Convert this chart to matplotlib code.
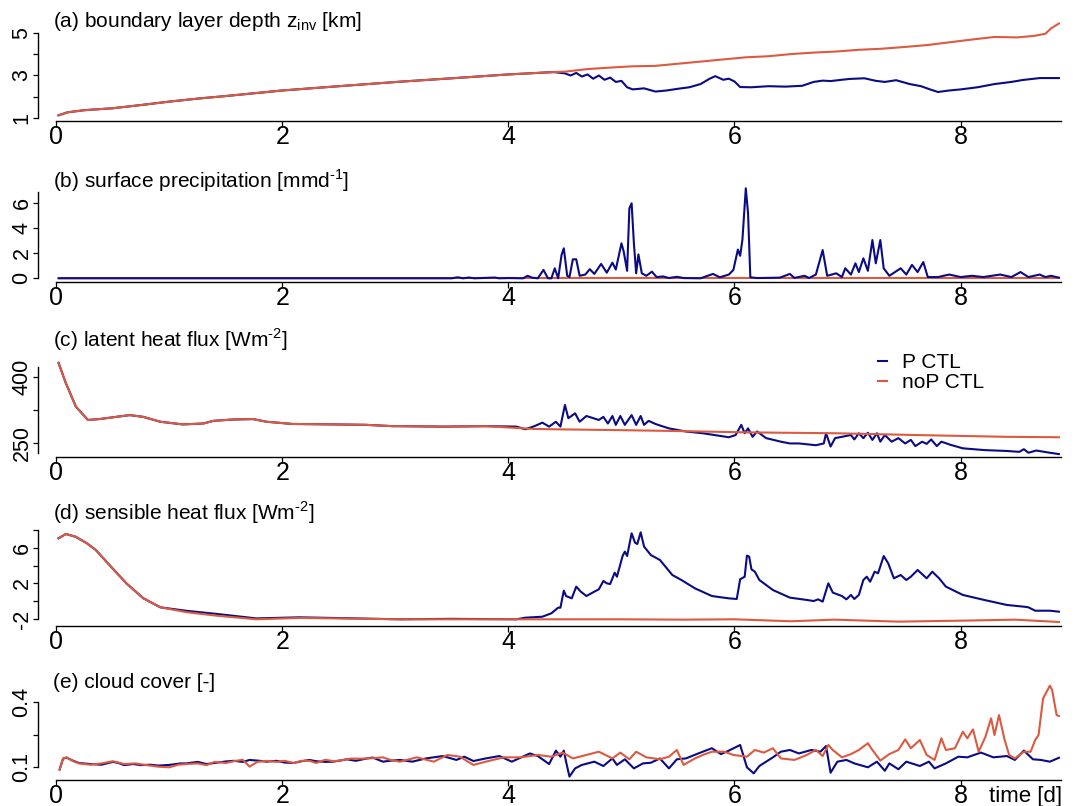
import matplotlib.pyplot as plt

plt.rcParams['font.family'] = ['Liberation Sans', 'DejaVu Sans']
plt.rcParams['mathtext.fontset'] = 'custom'
plt.rcParams['mathtext.rm'] = 'Liberation Sans'
plt.rcParams['axes.unicode_minus'] = False

BLUE = '#0b0b84'
RED = '#db5a40'

# ---- data: (time [d], value) ----
# (a) boundary layer depth [km]
a_shared = [(0.02, 1.14), (0.10, 1.28), (0.25, 1.38), (0.50, 1.47), (0.75, 1.62),
            (1.00, 1.78), (1.27, 1.93), (1.50, 2.04), (2.00, 2.30), (2.50, 2.50),
            (3.04, 2.71), (3.50, 2.87), (4.00, 3.05), (4.40, 3.16)]
a_p = [(4.50, 3.10), (4.55, 3.00), (4.60, 3.12), (4.65, 2.95), (4.70, 3.05), (4.75, 2.85),
       (4.80, 3.00), (4.85, 2.80), (4.90, 2.90), (4.95, 2.70), (5.00, 2.75), (5.05, 2.45),
       (5.10, 2.35), (5.20, 2.40), (5.30, 2.25), (5.40, 2.30), (5.50, 2.38), (5.60, 2.45),
       (5.70, 2.60), (5.78, 2.85), (5.83, 2.97), (5.90, 2.80), (5.95, 2.85), (6.00, 2.72),
       (6.05, 2.46), (6.15, 2.45), (6.30, 2.50), (6.45, 2.48), (6.60, 2.52), (6.70, 2.70),
       (6.78, 2.76), (6.85, 2.74), (6.95, 2.80), (7.02, 2.84), (7.15, 2.87), (7.25, 2.75),
       (7.33, 2.70), (7.43, 2.78), (7.55, 2.60), (7.65, 2.50), (7.73, 2.35), (7.80, 2.23),
       (7.90, 2.30), (8.00, 2.35), (8.15, 2.45), (8.30, 2.60), (8.45, 2.70), (8.55, 2.79),
       (8.70, 2.88), (8.87, 2.88)]
a_nop = [(4.50, 3.18), (4.70, 3.30), (4.90, 3.37), (5.10, 3.43), (5.30, 3.45), (5.50, 3.55),
         (5.70, 3.65), (5.90, 3.75), (6.10, 3.85), (6.30, 3.90), (6.50, 4.00), (6.70, 4.07),
         (6.90, 4.12), (7.10, 4.20), (7.30, 4.25), (7.50, 4.33), (7.70, 4.42), (7.90, 4.55),
         (8.10, 4.68), (8.30, 4.80), (8.50, 4.78), (8.65, 4.85), (8.75, 4.95), (8.80, 5.20),
         (8.87, 5.43)]

# (b) surface precipitation [mm/d]
b_p = [(0.02, 0.0), (3.50, 0.0), (3.55, 0.08), (3.60, 0.0), (3.65, 0.06), (3.70, 0.0),
       (3.88, 0.06), (3.92, 0.0), (4.00, 0.02), (4.13, 0.0), (4.17, 0.20), (4.21, 0.05),
       (4.26, 0.0), (4.31, 0.67), (4.35, 0.0), (4.38, 0.0), (4.41, 0.80), (4.44, 0.0),
       (4.47, 1.87), (4.49, 2.40), (4.52, 0.20), (4.54, 0.10), (4.57, 1.52), (4.60, 1.52),
       (4.63, 0.20), (4.68, 0.30), (4.72, 0.73), (4.76, 0.35), (4.82, 1.15), (4.87, 0.45),
       (4.92, 1.25), (4.95, 0.70), (5.00, 2.80), (5.02, 2.13), (5.05, 0.60), (5.07, 5.60),
       (5.09, 6.00), (5.11, 2.80), (5.13, 0.40), (5.15, 1.91), (5.18, 0.40), (5.22, 0.20),
       (5.27, 0.53), (5.31, 0.10), (5.37, 0.15), (5.42, 0.02), (5.49, 0.12), (5.55, 0.02),
       (5.70, 0.0), (5.81, 0.35), (5.87, 0.08), (5.95, 0.30), (5.99, 0.67), (6.03, 2.30),
       (6.05, 1.80), (6.07, 3.07), (6.10, 7.20), (6.12, 5.20), (6.14, 0.08), (6.20, 0.02),
       (6.40, 0.05), (6.49, 0.35), (6.53, 0.03), (6.62, 0.20), (6.66, 0.02), (6.72, 0.30),
       (6.78, 2.26), (6.82, 0.20), (6.90, 0.40), (6.95, 0.10), (6.98, 0.80), (7.03, 0.30),
       (7.07, 1.20), (7.10, 0.50), (7.14, 1.60), (7.18, 0.60), (7.22, 3.06), (7.25, 1.20),
       (7.29, 3.06), (7.32, 0.80), (7.37, 0.20), (7.42, 0.50), (7.47, 0.80), (7.52, 0.30),
       (7.57, 1.07), (7.62, 0.50), (7.67, 1.30), (7.71, 0.10), (7.80, 0.10), (7.90, 0.30),
       (8.00, 0.10), (8.10, 0.20), (8.20, 0.10), (8.35, 0.30), (8.45, 0.10), (8.53, 0.50),
       (8.60, 0.10), (8.70, 0.30), (8.75, 0.10), (8.80, 0.20), (8.87, 0.05)]
b_nop = [(0.02, 0.0), (4.50, 0.0), (8.87, 0.0)]

# (c) latent heat flux [W/m2]
c_shared = [(0.02, 432), (0.085, 386), (0.174, 333), (0.28, 303), (0.38, 305), (0.50, 309),
            (0.65, 314), (0.77, 310), (0.92, 299), (1.12, 293), (1.30, 295), (1.39, 301),
            (1.56, 304), (1.74, 305), (1.86, 299), (2.09, 294), (2.45, 293), (2.74, 292),
            (2.98, 289), (3.04, 289), (3.42, 288), (3.80, 289)]
c_p = [(4.07, 288), (4.15, 282), (4.23, 289), (4.30, 297), (4.36, 288), (4.42, 299),
       (4.46, 288), (4.50, 337), (4.53, 307), (4.59, 318), (4.63, 299), (4.69, 312),
       (4.80, 303), (4.84, 310), (4.88, 295), (4.92, 312), (4.95, 292), (4.99, 312),
       (5.03, 292), (5.09, 314), (5.13, 292), (5.17, 312), (5.20, 292), (5.24, 301),
       (5.30, 294), (5.42, 284), (5.57, 277), (5.72, 273), (5.95, 264), (6.01, 269),
       (6.06, 292), (6.09, 273), (6.12, 284), (6.16, 265), (6.20, 277), (6.28, 262),
       (6.41, 254), (6.49, 250), (6.57, 250), (6.72, 246), (6.79, 250), (6.81, 273),
       (6.85, 243), (6.89, 262), (6.95, 265), (7.03, 269), (7.06, 259), (7.10, 273),
       (7.14, 262), (7.18, 274), (7.22, 258), (7.26, 273), (7.29, 254), (7.33, 269),
       (7.39, 254), (7.45, 262), (7.51, 250), (7.56, 258), (7.60, 244), (7.66, 254),
       (7.70, 249), (7.74, 259), (7.79, 244), (7.83, 254), (7.91, 247), (8.02, 239),
       (8.21, 235), (8.41, 233), (8.52, 231), (8.56, 237), (8.60, 229), (8.67, 234),
       (8.79, 229), (8.87, 226)]
c_nop = [(4.00, 286), (4.20, 283), (4.40, 282), (4.70, 281), (5.00, 280), (5.50, 278),
         (6.10, 275), (6.50, 274), (6.90, 273), (7.60, 269), (8.40, 265), (8.87, 264)]

# (d) sensible heat flux [W/m2]
d_shared = [(0.02, 7.05), (0.085, 7.53), (0.17, 7.23), (0.27, 6.50), (0.35, 5.74),
            (0.47, 4.07), (0.62, 2.02), (0.77, 0.35), (0.92, -0.66)]
d_p = [(1.15, -1.05), (1.42, -1.40), (1.77, -1.90), (2.15, -1.78), (2.45, -1.85),
       (3.04, -2.00), (3.50, -1.95), (4.07, -2.00), (4.15, -1.82), (4.30, -1.71),
       (4.38, -1.33), (4.44, -0.70), (4.46, -0.70), (4.49, 1.20), (4.51, 0.60),
       (4.56, 0.34), (4.60, 1.65), (4.64, 1.09), (4.69, 0.60), (4.76, 1.09), (4.80, 1.35),
       (4.84, 2.28), (4.87, 2.02), (4.90, 1.94), (4.94, 3.21), (4.96, 2.76), (5.01, 5.07),
       (5.03, 5.56), (5.05, 5.07), (5.09, 7.61), (5.12, 6.56), (5.14, 6.41), (5.17, 7.72),
       (5.20, 6.12), (5.26, 5.18), (5.34, 4.63), (5.45, 2.95), (5.53, 2.39), (5.65, 1.46),
       (5.80, 0.60), (5.95, 0.34), (6.02, 0.27), (6.05, 2.47), (6.09, 2.76), (6.11, 5.11),
       (6.13, 5.00), (6.15, 3.58), (6.18, 3.32), (6.22, 2.39), (6.34, 1.27), (6.49, 0.42),
       (6.64, 0.16), (6.70, 0.04), (6.74, 0.23), (6.78, -0.03), (6.83, 2.02), (6.87, 0.98),
       (6.95, 0.60), (6.99, 0.23), (7.03, 0.72), (7.06, 0.27), (7.10, 0.72), (7.14, 2.39),
       (7.17, 2.76), (7.20, 2.20), (7.24, 3.32), (7.27, 3.14), (7.32, 5.07), (7.36, 4.25),
       (7.41, 2.58), (7.47, 2.95), (7.52, 2.39), (7.56, 2.76), (7.62, 3.51), (7.70, 2.58),
       (7.75, 3.32), (7.81, 2.58), (7.87, 1.65), (8.02, 0.72), (8.21, 0.16), (8.41, -0.40),
       (8.56, -0.59), (8.60, -0.66), (8.66, -1.04), (8.79, -1.04), (8.87, -1.15)]
d_nop = [(1.15, -1.20), (1.42, -1.60), (1.77, -2.00), (2.15, -1.85), (2.45, -1.90),
         (3.04, -2.00), (4.00, -2.00), (5.00, -2.00), (5.55, -2.04), (6.00, -2.00),
         (6.50, -2.22), (6.88, -2.04), (7.45, -2.26), (8.02, -2.15), (8.48, -2.04),
         (8.87, -2.30)]

# (e) cloud cover [-]
e_p = [(0.03, 0.090), (0.06, 0.140), (0.09, 0.145), (0.15, 0.130), (0.20, 0.120),
       (0.30, 0.115), (0.40, 0.112), (0.50, 0.125), (0.55, 0.120), (0.60, 0.110),
       (0.68, 0.115), (0.75, 0.110), (0.83, 0.112), (0.90, 0.108), (1.00, 0.111),
       (1.10, 0.118), (1.15, 0.118), (1.25, 0.125), (1.33, 0.115), (1.40, 0.120),
       (1.50, 0.127), (1.57, 0.130), (1.65, 0.125), (1.71, 0.134), (1.80, 0.130),
       (1.86, 0.126), (1.95, 0.130), (2.02, 0.122), (2.10, 0.120), (2.17, 0.128),
       (2.24, 0.134), (2.30, 0.128), (2.38, 0.125), (2.45, 0.126), (2.52, 0.132),
       (2.57, 0.137), (2.65, 0.130), (2.74, 0.140), (2.80, 0.145), (2.89, 0.126),
       (2.95, 0.130), (3.04, 0.134), (3.15, 0.126), (3.27, 0.141), (3.42, 0.152),
       (3.54, 0.134), (3.61, 0.149), (3.69, 0.129), (3.80, 0.141), (3.92, 0.152),
       (4.03, 0.126), (4.19, 0.164), (4.26, 0.152), (4.36, 0.115), (4.42, 0.177),
       (4.46, 0.149), (4.49, 0.177), (4.51, 0.126), (4.54, 0.057), (4.59, 0.095),
       (4.65, 0.111), (4.76, 0.126), (4.84, 0.106), (4.92, 0.141), (4.96, 0.111),
       (5.03, 0.137), (5.11, 0.095), (5.19, 0.118), (5.26, 0.121), (5.34, 0.141),
       (5.42, 0.095), (5.49, 0.137), (5.57, 0.141), (5.68, 0.164), (5.80, 0.188),
       (5.88, 0.161), (5.95, 0.177), (6.05, 0.203), (6.11, 0.100), (6.17, 0.072),
       (6.22, 0.106), (6.34, 0.146), (6.41, 0.172), (6.49, 0.180), (6.57, 0.164),
       (6.68, 0.180), (6.76, 0.172), (6.81, 0.198), (6.85, 0.075), (6.91, 0.126),
       (6.99, 0.134), (7.06, 0.118), (7.18, 0.100), (7.26, 0.126), (7.33, 0.084),
       (7.37, 0.118), (7.45, 0.091), (7.52, 0.126), (7.64, 0.106), (7.72, 0.126),
       (7.77, 0.095), (7.87, 0.118), (7.98, 0.149), (8.06, 0.146), (8.18, 0.168),
       (8.29, 0.146), (8.41, 0.152), (8.48, 0.134), (8.56, 0.177), (8.64, 0.137),
       (8.71, 0.134), (8.79, 0.126), (8.87, 0.144)]
e_nop = [(0.03, 0.090), (0.06, 0.140), (0.09, 0.146), (0.15, 0.128), (0.20, 0.118),
         (0.30, 0.112), (0.40, 0.118), (0.50, 0.128), (0.55, 0.122), (0.60, 0.115),
         (0.70, 0.118), (0.80, 0.110), (0.90, 0.103), (1.00, 0.100), (1.08, 0.112),
         (1.15, 0.115), (1.25, 0.118), (1.33, 0.110), (1.40, 0.125), (1.50, 0.120),
         (1.57, 0.128), (1.65, 0.135), (1.71, 0.103), (1.78, 0.125), (1.86, 0.130),
         (1.95, 0.125), (2.02, 0.130), (2.10, 0.120), (2.17, 0.130), (2.24, 0.130),
         (2.30, 0.120), (2.38, 0.135), (2.45, 0.128), (2.52, 0.132), (2.60, 0.140),
         (2.70, 0.140), (2.80, 0.142), (2.89, 0.146), (2.95, 0.135), (3.04, 0.126),
         (3.19, 0.146), (3.34, 0.126), (3.46, 0.157), (3.57, 0.149), (3.69, 0.111),
         (3.80, 0.126), (3.96, 0.146), (4.11, 0.146), (4.26, 0.157), (4.38, 0.149),
         (4.48, 0.168), (4.57, 0.141), (4.69, 0.157), (4.80, 0.172), (4.92, 0.141),
         (4.99, 0.168), (5.07, 0.137), (5.13, 0.172), (5.22, 0.146), (5.34, 0.137),
         (5.42, 0.149), (5.49, 0.180), (5.55, 0.111), (5.65, 0.141), (5.72, 0.157),
         (5.80, 0.172), (5.91, 0.172), (5.99, 0.157), (6.11, 0.149), (6.18, 0.180),
         (6.26, 0.168), (6.34, 0.188), (6.41, 0.141), (6.53, 0.134), (6.64, 0.157),
         (6.72, 0.180), (6.78, 0.152), (6.83, 0.203), (6.87, 0.180), (6.95, 0.146),
         (7.03, 0.161), (7.10, 0.180), (7.18, 0.211), (7.22, 0.180), (7.29, 0.131),
         (7.37, 0.161), (7.45, 0.180), (7.51, 0.229), (7.56, 0.188), (7.64, 0.226),
         (7.70, 0.157), (7.77, 0.134), (7.83, 0.234), (7.87, 0.180), (7.95, 0.188),
         (8.02, 0.264), (8.06, 0.234), (8.11, 0.275), (8.16, 0.172), (8.20, 0.218),
         (8.22, 0.241), (8.27, 0.326), (8.30, 0.249), (8.34, 0.341), (8.39, 0.226),
         (8.43, 0.157), (8.48, 0.141), (8.56, 0.172), (8.62, 0.172), (8.66, 0.226),
         (8.69, 0.249), (8.73, 0.418), (8.79, 0.477), (8.81, 0.457), (8.85, 0.341),
         (8.87, 0.337)]

x_ticks = [0, 2, 4, 6, 8]

# ---- layout in pixels of the 1078 x 806 canvas ----
fig = plt.figure(figsize=(10.78, 8.06), dpi=100)
W, H = 1078.0, 806.0
LEFT, RIGHT = 38.3, 1064.0
XLIM = (-0.159, 8.915)


def xy(pts):
    return [p[0] for p in pts], [p[1] for p in pts]


def panel(top, bottom, ylim, ybounds, yticks, ylabels, title, title_y):
    ax = fig.add_axes([LEFT / W, 1 - bottom / H, (RIGHT - LEFT) / W, (bottom - top) / H])
    ax.set_xlim(*XLIM)
    ax.set_ylim(*ylim)
    ax.patch.set_visible(False)
    for s in ('top', 'right'):
        ax.spines[s].set_visible(False)
    for s in ('left', 'bottom'):
        ax.spines[s].set_linewidth(1.0)
    ax.spines['bottom'].set_bounds(0, 8.89)
    ax.spines['left'].set_bounds(*ybounds)
    ax.set_xticks(x_ticks)
    ax.set_xticklabels([str(t) for t in x_ticks])
    ax.set_yticks(yticks)
    ax.set_yticklabels(ylabels)
    ax.tick_params(axis='x', length=4.3, width=0.9, pad=-1.5, labelsize=18)
    ax.tick_params(axis='y', length=3.6, width=0.9, pad=0.5, labelsize=15.5, labelrotation=90)
    plt.setp(ax.get_yticklabels(), va='center')
    fig.text(53 / W, 1 - title_y / H, title, fontsize=15, ha='left', va='baseline')
    return ax


ax_a = panel(20, 121, (0.874, 5.593), (1, 5), [1, 2, 3, 4, 5], ['1', '', '3', '', '5'],
             r'(a) boundary layer depth z$_{\mathrm{inv}}$ [km]', 26.7)
ax_b = panel(185, 282.3, (-0.32, 7.464), (0, 6.93), [0, 2, 4, 6], ['0', '2', '4', '6'],
             r'(b) surface precipitation [mmd$^{\text{-1}}$]', 188.3)
ax_c = panel(360, 457, (219.4, 438.4), (228.4, 422.6), [250, 325, 400], ['250', '', '400'],
             r'(c) latent heat flux [Wm$^{\text{-2}}$]', 346.7)
ax_d = panel(525, 626, (-2.749, 8.536), (-2, 8), [-2, 0, 2, 4, 6, 8],
             ['-2', '', '2', '', '6', ''],
             r'(d) sensible heat flux [Wm$^{\text{-2}}$]', 520)
ax_e = panel(680, 780, (0.0414, 0.503), (0.1, 0.4), [0.1, 0.25, 0.4], ['0.1', '', '0.4'],
             '(e) cloud cover [-]', 688.3)

LW = 1.5
# (a)
ax_a.plot(*xy(a_shared + a_p), color=BLUE, lw=LW)
ax_a.plot(*xy(a_shared + a_nop), color=RED, lw=LW)
# (b) blue drawn over the red zero line
ax_b.plot(*xy(b_nop), color=RED, lw=LW)
ax_b.plot(*xy(b_p), color=BLUE, lw=LW)
# (c)
lp, = ax_c.plot(*xy(c_shared + c_p), color=BLUE, lw=LW, label='P CTL')
ln, = ax_c.plot(*xy(c_shared + c_nop), color=RED, lw=LW, label='noP CTL')
# (d)
ax_d.plot(*xy(d_shared + d_p), color=BLUE, lw=LW)
ax_d.plot(*xy(d_shared + d_nop), color=RED, lw=LW)
# (e)
ax_e.plot(*xy(e_p), color=BLUE, lw=LW)
ax_e.plot(*xy(e_nop), color=RED, lw=LW)

fig.legend(handles=[lp, ln], loc='upper left', bbox_to_anchor=(878 / W, 1 - 353 / H),
           frameon=False, fontsize=15, handlelength=0.45, handletextpad=0.7,
           labelspacing=0.05, borderpad=0, borderaxespad=0)

fig.text(1062 / W, 1 - 802 / H, 'time [d]', fontsize=16, ha='right', va='baseline')

fig.savefig('out.png', dpi=100)
